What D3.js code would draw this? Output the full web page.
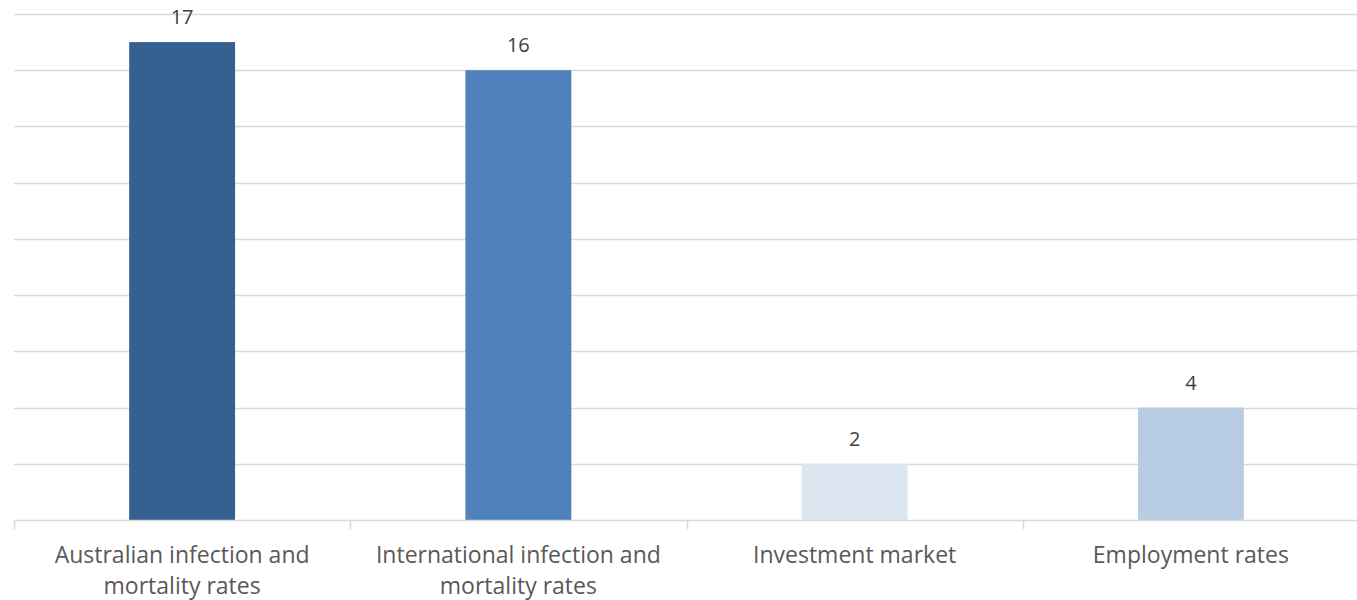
<!DOCTYPE html>
<html>
<head>
<meta charset="utf-8">
<script src="https://cdn.jsdelivr.net/npm/d3@7"></script>
<style>
  html, body { margin: 0; padding: 0; background: #fff; }
  svg { display: block; }
  text { font-family: "Open Sans", Lato, sans-serif; }
</style>
</head>
<body>
<svg id="chart" width="1357" height="600"></svg>
<script>
// Categories (each label split into display lines) and their counts
const categories = [
  "Australian infection and mortality rates",
  "International infection and mortality rates",
  "Investment market",
  "Employment rates"
];
const categoryLines = [
  ["Australian infection and", "mortality rates"],
  ["International infection and", "mortality rates"],
  ["Investment market"],
  ["Employment rates"]
];
const values = [17, 16, 2, 4];
const barColors = ["#366092", "#4f81bd", "#dce6f1", "#b8cce4"];
const gridTicks = [0, 2, 4, 6, 8, 10, 12, 14, 16, 18];

const svg = d3.select("#chart");
const plot = { left: 14, right: 1359, top: 14, bottom: 520 };

const x = d3.scaleBand()
  .domain(categories)
  .range([plot.left, plot.right])
  .paddingInner(0.685)
  .paddingOuter(0.3425);

const y = d3.scaleLinear()
  .domain([0, 18])
  .range([plot.bottom, plot.top]);

// Horizontal gridlines
svg.append("g")
  .selectAll("line")
  .data(gridTicks.filter(d => d > 0))
  .join("line")
  .attr("x1", plot.left)
  .attr("x2", plot.right)
  .attr("y1", d => Math.round(y(d)) + 0.5)
  .attr("y2", d => Math.round(y(d)) + 0.5)
  .attr("stroke", "#d9d9d9")
  .attr("stroke-width", 1.5);

// Bars
svg.append("g")
  .selectAll("rect")
  .data(values)
  .join("rect")
  .attr("x", (d, i) => x(categories[i]))
  .attr("y", d => y(d))
  .attr("width", x.bandwidth())
  .attr("height", d => y(0) - y(d))
  .attr("fill", (d, i) => barColors[i]);

// Category axis: baseline plus tick marks between categories
const step = x.step();
const axis = svg.append("g");
axis.append("line")
  .attr("x1", plot.left).attr("x2", plot.right)
  .attr("y1", plot.bottom + 0.5).attr("y2", plot.bottom + 0.5)
  .attr("stroke", "#d9d9d9").attr("stroke-width", 1.5);
axis.selectAll("line.tick")
  .data(d3.range(categories.length + 1))
  .join("line")
  .attr("class", "tick")
  .attr("x1", i => Math.round(plot.left + i * step) + 0.5)
  .attr("x2", i => Math.round(plot.left + i * step) + 0.5)
  .attr("y1", plot.bottom)
  .attr("y2", plot.bottom + 9)
  .attr("stroke", "#d9d9d9").attr("stroke-width", 1.5);

// Category labels
const labels = svg.append("g")
  .selectAll("text")
  .data(categoryLines)
  .join("text")
  .attr("text-anchor", "middle")
  .attr("fill", "#595959")
  .attr("font-size", 23)
  .attr("x", (d, i) => x(categories[i]) + x.bandwidth() / 2)
  .attr("y", 563);
labels.selectAll("tspan")
  .data((d, i) => d.map(t => ({ t, i })))
  .join("tspan")
  .attr("x", d => x(categories[d.i]) + x.bandwidth() / 2)
  .attr("dy", (d, j) => j === 0 ? 0 : 31)
  .text(d => d.t);

// Value labels above bars
svg.append("g")
  .selectAll("text")
  .data(values)
  .join("text")
  .attr("text-anchor", "middle")
  .attr("fill", "#404040")
  .attr("font-size", 20)
  .attr("x", (d, i) => x(categories[i]) + x.bandwidth() / 2)
  .attr("y", d => y(d) - 18)
  .text(d => d);
</script>
</body>
</html>
